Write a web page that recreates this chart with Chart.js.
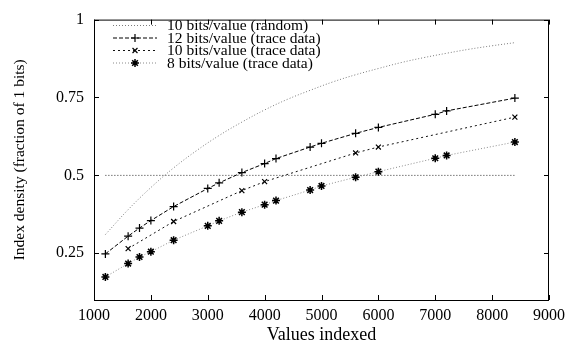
<!DOCTYPE html>
<html>
<head>
<meta charset="utf-8">
<script src="https://cdn.jsdelivr.net/npm/chart.js@4.4.0/dist/chart.umd.min.js"></script>
<style>
html,body{margin:0;padding:0;background:#fff;}
canvas{display:block;}
</style>
</head>
<body>
<canvas id="c" width="571" height="349"></canvas>
<script>
// ---- data ----
const randomX = [1200,1600,2000,2400,2800,3200,3600,4000,4400,4800,5200,5600,6000,6400,6800,7200,7600,8000,8400];
const randomY = [0.310,0.390,0.461,0.524,0.579,0.628,0.671,0.710,0.744,0.773,0.800,0.823,0.843,0.862,0.878,0.892,0.905,0.916,0.926];

const bits12X = [1200,1600,1800,2000,2400,3000,3200,3600,4000,4200,4800,5000,5600,6000,7000,7200,8400];
const bits12Y = [0.248,0.305,0.331,0.355,0.400,0.458,0.476,0.509,0.538,0.554,0.591,0.603,0.635,0.654,0.696,0.707,0.748];

const bits10X = [1600,2400,3600,4000,5600,6000,8400];
const bits10Y = [0.265,0.352,0.451,0.480,0.572,0.591,0.687];

const bits8X = [1200,1600,1800,2000,2400,3000,3200,3600,4000,4200,4800,5000,5600,6000,7000,7200,8400];
const bits8Y = [0.174,0.217,0.238,0.255,0.292,0.338,0.354,0.382,0.406,0.419,0.453,0.466,0.494,0.512,0.555,0.564,0.607];

const refX = [1200,8400];
const refY = [0.5,0.5];

const xTicks = [1000,2000,3000,4000,5000,6000,7000,8000,9000];
const yTicks = [0.25,0.5,0.75,1];

const labels = ['10 bits/value (random)','12 bits/value (trace data)','10 bits/value (trace data)','8 bits/value (trace data)'];

function pts(xs, ys){ return xs.map((x,i)=>({x:x,y:ys[i]})); }

const FONT = "'Liberation Serif','Times New Roman',serif";

const framePlugin = {
  id:'frame',
  afterDatasetsDraw(chart){
    const {ctx, chartArea:a, scales:{x,y}} = chart;
    ctx.save();
    ctx.strokeStyle='#000';
    ctx.lineWidth=1;
    ctx.setLineDash([]);
    ctx.strokeRect(a.left+0.5, a.top+0.5, a.right-a.left-1, a.bottom-a.top);
    const tl=5;
    ctx.beginPath();
    xTicks.forEach(v=>{
      const px=Math.round(x.getPixelForValue(v))+0.5;
      ctx.moveTo(px,a.bottom); ctx.lineTo(px,a.bottom-tl);
      ctx.moveTo(px,a.top); ctx.lineTo(px,a.top+tl);
    });
    yTicks.forEach(v=>{
      const py=Math.round(y.getPixelForValue(v))+0.5;
      ctx.moveTo(a.left,py); ctx.lineTo(a.left+tl,py);
      ctx.moveTo(a.right,py); ctx.lineTo(a.right-tl,py);
    });
    ctx.stroke();
    ctx.restore();
  }
};

const legendPlugin = {
  id:'customLegend',
  afterDraw(chart){
    const ctx=chart.ctx;
    ctx.save();
    ctx.font = "15.5px "+FONT;
    ctx.textBaseline='middle';
    ctx.textAlign='left';
    const x0=113, x1=157, tx=167, y0=25, dy=12.5;
    for(let i=0;i<4;i++){
      const ds=chart.data.datasets[i];
      const yy=y0+i*dy;
      ctx.strokeStyle=ds.borderColor;
      ctx.lineWidth=ds.borderWidth;
      ctx.setLineDash(ds.borderDash||[]);
      ctx.beginPath(); ctx.moveTo(x0,yy+0.5); ctx.lineTo(x1,yy+0.5); ctx.stroke();
      ctx.setLineDash([]);
      if(ds.pointRadius>0){
        ctx.strokeStyle=ds.pointBorderColor; ctx.fillStyle='rgba(0,0,0,0)';
        ctx.lineWidth=ds.pointBorderWidth;
        Chart.helpers.drawPoint(ctx,{pointStyle:ds.pointStyle,radius:ds.pointRadius,borderWidth:ds.pointBorderWidth,rotation:0},(x0+x1)/2,yy+0.5);
      }
      ctx.fillStyle='#000';
      ctx.fillText(labels[i],tx,yy+1);
    }
    ctx.restore();
  }
};

new Chart(document.getElementById('c'),{
  type:'line',
  data:{datasets:[
    {label:labels[0],data:pts(randomX,randomY),borderColor:'#7a7a7a',borderWidth:1,borderDash:[1,2],pointRadius:0,tension:0.4,fill:false},
    {label:labels[1],data:pts(bits12X,bits12Y),borderColor:'#000',borderWidth:1,borderDash:[4,2],pointStyle:'cross',pointRadius:4,pointBorderWidth:1.2,pointBorderColor:'#000',pointBackgroundColor:'#000',fill:false},
    {label:labels[2],data:pts(bits10X,bits10Y),borderColor:'#111',borderWidth:1,borderDash:[2,3],pointStyle:'crossRot',pointRadius:3.5,pointBorderWidth:1.2,pointBorderColor:'#000',pointBackgroundColor:'#000',fill:false},
    {label:labels[3],data:pts(bits8X,bits8Y),borderColor:'#8a8a8a',borderWidth:1,borderDash:[1,2],pointStyle:'star',pointRadius:4,pointBorderWidth:1.5,pointBorderColor:'#000',pointBackgroundColor:'#000',fill:false},
    {label:'ref',data:pts(refX,refY),borderColor:'#333',borderWidth:1,borderDash:[1,2],pointRadius:0,fill:false}
  ]},
  plugins:[framePlugin,legendPlugin],
  options:{
    responsive:false,
    devicePixelRatio:1,
    animation:false,
    layout:{padding:{top:12,right:18,left:0,bottom:0}},
    plugins:{legend:{display:false},tooltip:{enabled:false}},
    scales:{
      x:{type:'linear',min:1000,max:9000,
        afterBuildTicks:(s)=>{s.ticks=xTicks.map(v=>({value:v}));},
        afterFit:(s)=>{s.height=49;},
        grid:{display:false,drawTicks:false},
        border:{display:false},
        ticks:{color:'#000',padding:6,maxRotation:0,font:{family:FONT,size:16},callback:(v)=>String(v)},
        title:{display:true,text:'Values indexed',color:'#000',font:{family:FONT,size:18},padding:{top:0,bottom:3}}
      },
      y:{type:'linear',min:0.1,max:1,
        afterBuildTicks:(s)=>{s.ticks=yTicks.map(v=>({value:v}));},
        afterFit:(s)=>{s.width=94;},
        grid:{display:false,drawTicks:false},
        border:{display:false},
        ticks:{color:'#000',padding:10,font:{family:FONT,size:16},callback:(v)=>String(v)},
        title:{display:true,text:'Index density (fraction of 1 bits)',color:'#000',font:{family:FONT,size:15.5},padding:{top:11,bottom:4}}
      }
    }
  }
});
</script>
</body>
</html>
